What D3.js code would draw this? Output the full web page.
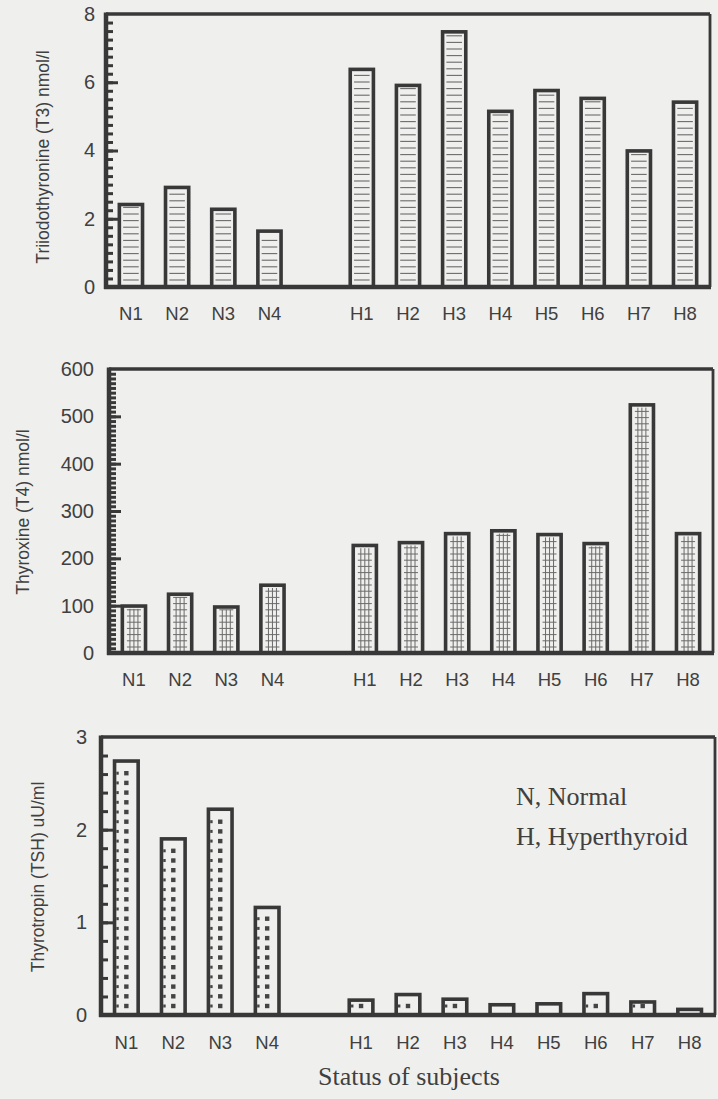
<!DOCTYPE html>
<html lang="en">
<head>
<meta charset="UTF-8">
<title>Thyroid hormones</title>
<style>
  body { margin: 0; background: #efefed; }
  svg { display: block; }
</style>
</head>
<body>
<script src="https://cdn.jsdelivr.net/npm/d3@7"></script>
<script>
// subjects, with an empty slot between the two groups
var subjects = ['N1', 'N2', 'N3', 'N4', 'gap', 'H1', 'H2', 'H3', 'H4', 'H5', 'H6', 'H7', 'H8'];
var labels = ['N1', 'N2', 'N3', 'N4', 'H1', 'H2', 'H3', 'H4', 'H5', 'H6', 'H7', 'H8'];

// values
var t3 = [2.47, 2.97, 2.33, 1.69, 6.43, 5.96, 7.53, 5.2, 5.81, 5.58, 4.04, 5.47];
var t4 = [103, 128, 101, 147, 231, 237, 256, 262, 254, 235, 528, 256];
var tsh = [2.76, 1.92, 2.24, 1.18, 0.18, 0.24, 0.19, 0.13, 0.14, 0.25, 0.16, 0.08];

var t3Ticks = [0, 2, 4, 6, 8];
var t4Ticks = [0, 100, 200, 300, 400, 500, 600];
var tshTicks = [0, 1, 2, 3];

var ink = '#383838';
var textCol = '#404040';
var sans = 'Liberation Sans, Arial, sans-serif';
var serif = 'Liberation Serif, Times New Roman, serif';

var svg = d3.select('body').append('svg')
    .attr('width', 718)
    .attr('height', 1099);

svg.append('rect')
    .attr('width', 718).attr('height', 1099)
    .attr('fill', '#efefed');

function panel(opt) {
    var g = svg.append('g');
    var x = d3.scaleBand()
        .domain(subjects)
        .range([opt.left, opt.right])
        .paddingInner(0.42)
        .paddingOuter(0.25);
    var y = d3.scaleLinear()
        .domain([0, opt.max])
        .range([opt.bottom, opt.top]);

    var data = labels.map(function(d, i) { return { name: d, value: opt.values[i] }; });
    var sw = 3.6;

    var bars = g.selectAll('g.bar')
        .data(data)
        .enter()
        .append('g')
        .attr('class', 'bar');

    bars.each(function(d) {
        var b = d3.select(this);
        var x0 = x(d.name), w = x.bandwidth();
        var top = y(d.value), base = y(0);
        var cx = x0 + w / 2;
        var innerTop = top + sw, innerBottom = base - 2;
        if (opt.kind === 'lines') {
            d3.range(innerBottom - 5, innerTop + 1, -6.6).forEach(function(yy) {
                b.append('line')
                    .attr('x1', x0 + sw + 2).attr('x2', x0 + w - sw - 2)
                    .attr('y1', yy).attr('y2', yy)
                    .attr('stroke', '#6a6a6a').attr('stroke-width', 1.1);
            });
        } else if (opt.kind === 'grid') {
            [-4, 0, 4].forEach(function(dx) {
                if (innerBottom - innerTop > 2) {
                    b.append('line')
                        .attr('x1', cx + dx).attr('x2', cx + dx)
                        .attr('y1', innerTop + 1).attr('y2', innerBottom)
                        .attr('stroke', '#6a6a6a').attr('stroke-width', 1);
                }
            });
            d3.range(innerBottom - 4, innerTop + 1, -6.2).forEach(function(yy) {
                b.append('line')
                    .attr('x1', cx - 7).attr('x2', cx + 7)
                    .attr('y1', yy).attr('y2', yy)
                    .attr('stroke', '#6a6a6a').attr('stroke-width', 1);
            });
        } else {
            d3.range(innerBottom - 7, innerTop + 1, -9.7).forEach(function(yy) {
                b.append('rect')
                    .attr('x', cx - 2.2).attr('y', yy - 2.2)
                    .attr('width', 4.4).attr('height', 4.4)
                    .attr('fill', '#444');
                b.append('rect')
                    .attr('x', x0 + sw).attr('y', yy - 1.5)
                    .attr('width', 2.4).attr('height', 3)
                    .attr('fill', '#444');
            });
        }
        b.append('rect')
            .attr('x', x0 + sw / 2)
            .attr('y', top + sw / 2)
            .attr('width', w - sw)
            .attr('height', Math.max(0, base - top - sw / 2))
            .attr('fill', 'none')
            .attr('stroke', ink)
            .attr('stroke-width', sw);
    });

    // minor ticks pointing into the frame
    var minor = g.append('g')
        .attr('transform', 'translate(' + opt.left + ',0)')
        .call(d3.axisRight(y).tickValues(d3.range(opt.minor, opt.max, opt.minor)).tickSize(7).tickFormat(''));
    minor.select('.domain').remove();
    minor.selectAll('line').attr('stroke', ink).attr('stroke-width', 3);

    var major = g.append('g')
        .attr('transform', 'translate(' + opt.left + ',0)')
        .call(d3.axisRight(y).tickValues(opt.ticks.slice(1, -1)).tickSize(12).tickFormat(''));
    major.select('.domain').remove();
    major.selectAll('line').attr('stroke', ink).attr('stroke-width', 3);

    // tick labels
    var yl = g.append('g')
        .attr('transform', 'translate(' + (opt.left - opt.labelGap) + ',0)')
        .call(d3.axisLeft(y).tickValues(opt.ticks).tickSize(0).tickPadding(0).tickFormat(d3.format('d')));
    yl.select('.domain').remove();
    yl.selectAll('text')
        .attr('font-family', sans)
        .attr('font-size', 20)
        .attr('fill', textCol);

    // x labels
    var xl = g.append('g')
        .attr('transform', 'translate(0,' + opt.bottom + ')')
        .call(d3.axisBottom(x).tickValues(labels).tickSize(0).tickPadding(opt.xPad));
    xl.select('.domain').remove();
    xl.selectAll('text')
        .attr('font-family', sans)
        .attr('font-size', 18.5)
        .attr('fill', textCol);

    // frame
    g.append('line').attr('x1', opt.left).attr('x2', opt.right).attr('y1', opt.top).attr('y2', opt.top)
        .attr('stroke', ink).attr('stroke-width', 3.6);
    g.append('line').attr('x1', opt.right).attr('x2', opt.right).attr('y1', opt.top).attr('y2', opt.bottom)
        .attr('stroke', ink).attr('stroke-width', 2.8);
    g.append('line').attr('x1', opt.left - 2).attr('x2', opt.right + 1).attr('y1', opt.bottom).attr('y2', opt.bottom)
        .attr('stroke', ink).attr('stroke-width', 4.5);
    g.append('line').attr('x1', opt.left).attr('x2', opt.left).attr('y1', opt.top - 1.5).attr('y2', opt.bottom + 2)
        .attr('stroke', ink).attr('stroke-width', 4.5);

    // axis title
    g.append('text')
        .attr('transform', 'translate(' + opt.titleX + ',' + opt.titleY + ') rotate(-90)')
        .attr('text-anchor', 'middle')
        .attr('font-family', sans)
        .attr('font-size', 17.5)
        .attr('fill', textCol)
        .text(opt.title);
    return g;
}

panel({
    values: t3, max: 8, ticks: t3Ticks, minor: 0.25,
    left: 106, right: 710, top: 14, bottom: 287,
    labelGap: 11, xPad: 20, kind: 'lines',
    title: 'Triiodothyronine (T3) nmol/l', titleX: 49, titleY: 157
});

panel({
    values: t4, max: 600, ticks: t4Ticks, minor: 10,
    left: 109, right: 713, top: 369, bottom: 653,
    labelGap: 15, xPad: 20, kind: 'grid',
    title: 'Thyroxine (T4) nmol/l', titleX: 29, titleY: 512
});

panel({
    values: tsh, max: 3, ticks: tshTicks, minor: 0.2,
    left: 101, right: 715, top: 737, bottom: 1015,
    labelGap: 14, xPad: 21, kind: 'dots',
    title: 'Thyrotropin (TSH) uU/ml', titleX: 44, titleY: 877
});

// legend and shared x title, in the serif face of the scan
svg.append('text')
    .attr('x', 516).attr('y', 805)
    .attr('font-family', serif)
    .attr('font-size', 26)
    .attr('fill', textCol)
    .text('N, Normal');
svg.append('text')
    .attr('x', 516).attr('y', 845)
    .attr('font-family', serif)
    .attr('font-size', 26)
    .attr('fill', textCol)
    .text('H, Hyperthyroid');
svg.append('text')
    .attr('x', 409).attr('y', 1085)
    .attr('text-anchor', 'middle')
    .attr('font-family', serif)
    .attr('font-size', 26)
    .attr('fill', textCol)
    .text('Status of subjects');
</script>
</body>
</html>
